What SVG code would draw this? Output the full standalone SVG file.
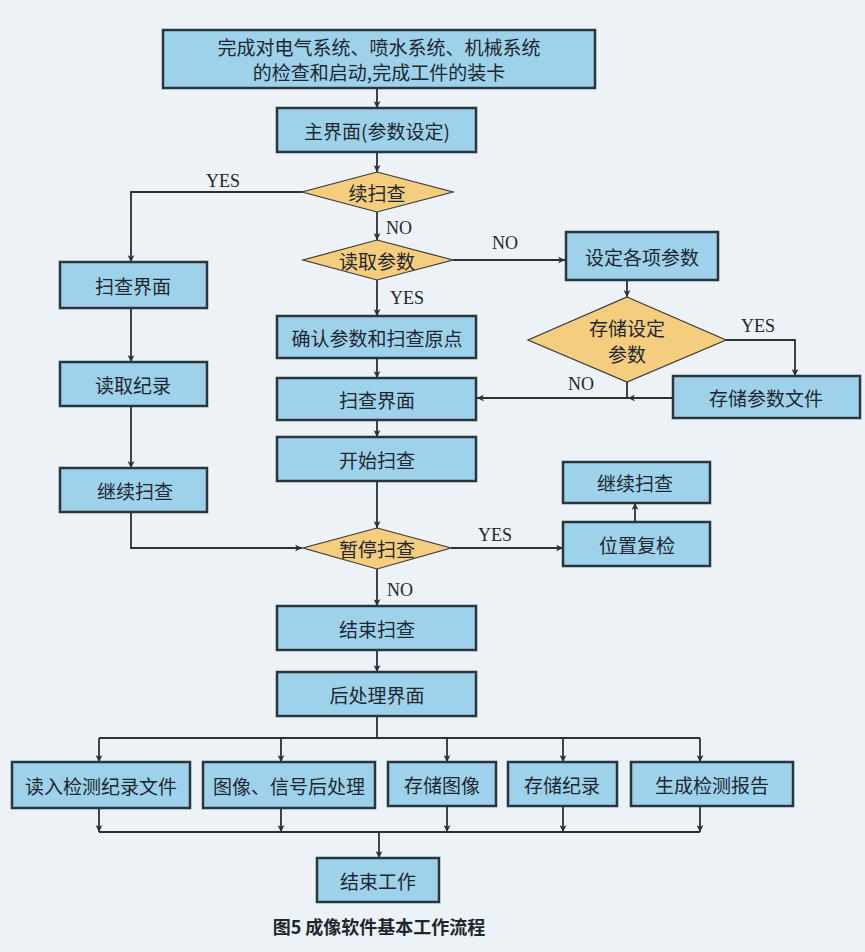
<svg xmlns="http://www.w3.org/2000/svg" width="865" height="952" viewBox="0 0 865 952">
<defs>
<style>
.bx{fill:#9dd2ea;stroke:#2b3540;stroke-width:2.5}
.dm{fill:#f4cd7e;stroke:#3a3a3a;stroke-width:1.2}
.t{font-family:"Noto Sans CJK SC","Noto Sans CJK TC",sans-serif;font-size:19px;fill:#1e2630;text-anchor:middle;dominant-baseline:central}
.lb{font-family:"Liberation Serif",serif;font-size:18px;fill:#1e2630}
.ln{fill:none;stroke:#2b3038;stroke-width:1.8}
.cap{font-family:"Noto Sans CJK SC",sans-serif;font-size:18px;font-weight:bold;fill:#1e2630;text-anchor:middle}
</style>
<marker id="ah" viewBox="0 0 10 10" refX="10" refY="5" markerWidth="7" markerHeight="7" orient="auto" markerUnits="userSpaceOnUse">
<path d="M0,0 L10,5 L0,10 L3,5 Z" fill="#2b3038"/>
</marker>
</defs>
<rect width="865" height="952" fill="#ecf2f5"/>

<g id="connectors">
<path class="ln" d="M377,88 V108" marker-end="url(#ah)"/>
<path class="ln" d="M377,152 V172" marker-end="url(#ah)"/>
<path class="ln" d="M303,192 H131 V262" marker-end="url(#ah)"/>
<path class="ln" d="M377,212 V240" marker-end="url(#ah)"/>
<path class="ln" d="M453,260 H565" marker-end="url(#ah)"/>
<path class="ln" d="M377,280 V316" marker-end="url(#ah)"/>
<path class="ln" d="M627,280 V297" marker-end="url(#ah)"/>
<path class="ln" d="M726,340 H795 V376" marker-end="url(#ah)"/>
<path class="ln" d="M673,398 H628" marker-end="url(#ah)"/>
<path class="ln" d="M628,398 H477" marker-end="url(#ah)"/>
<path class="ln" d="M627,382 V398"/>
<path class="ln" d="M377,358 V378" marker-end="url(#ah)"/>
<path class="ln" d="M377,420 V437" marker-end="url(#ah)"/>
<path class="ln" d="M377,481 V528" marker-end="url(#ah)"/>
<path class="ln" d="M131,308 V362" marker-end="url(#ah)"/>
<path class="ln" d="M131,406 V468" marker-end="url(#ah)"/>
<path class="ln" d="M131,512 V548 H302" marker-end="url(#ah)"/>
<path class="ln" d="M451,548 H563" marker-end="url(#ah)"/>
<path class="ln" d="M635,522 V503" marker-end="url(#ah)"/>
<path class="ln" d="M377,569 V606" marker-end="url(#ah)"/>
<path class="ln" d="M377,650 V672" marker-end="url(#ah)"/>
<path class="ln" d="M377,716 V738 M99,738 H700"/>
<path class="ln" d="M99,738 V762" marker-end="url(#ah)"/>
<path class="ln" d="M281,738 V762" marker-end="url(#ah)"/>
<path class="ln" d="M447,738 V762" marker-end="url(#ah)"/>
<path class="ln" d="M563,738 V762" marker-end="url(#ah)"/>
<path class="ln" d="M700,738 V762" marker-end="url(#ah)"/>
<path class="ln" d="M99,808 V832" marker-end="url(#ah)"/>
<path class="ln" d="M281,808 V832" marker-end="url(#ah)"/>
<path class="ln" d="M447,806 V832" marker-end="url(#ah)"/>
<path class="ln" d="M563,806 V832" marker-end="url(#ah)"/>
<path class="ln" d="M700,806 V832" marker-end="url(#ah)"/>
<path class="ln" d="M99,832 H700"/>
<path class="ln" d="M379,832 V858" marker-end="url(#ah)"/>
<text class="lb" x="206" y="187">YES</text>
<text class="lb" x="386" y="234">NO</text>
<text class="lb" x="492" y="249">NO</text>
<text class="lb" x="390" y="304">YES</text>
<text class="lb" x="741" y="332">YES</text>
<text class="lb" x="568" y="390">NO</text>
<text class="lb" x="478" y="541">YES</text>
<text class="lb" x="387" y="596">NO</text>
</g>

<g id="n-start"><rect class="bx" x="163" y="30" width="432" height="58"/><text class="t" x="379" y="46">完成对电气系统、喷水系统、机械系统</text><text class="t" x="379" y="71">的检查和启动,完成工件的装卡</text></g>
<g id="n-main"><rect class="bx" x="277" y="108" width="199" height="44"/><text class="t" x="377" y="130">主界面(参数设定)</text></g>
<g id="d-cont"><polygon class="dm" points="377,172 453,192 377,212 302,192"/><text class="t" x="377" y="192">续扫查</text></g>
<g id="d-read"><polygon class="dm" points="377,240 453,260 377,280 303,260"/><text class="t" x="377" y="260">读取参数</text></g>
<g id="n-setp"><rect class="bx" x="566" y="232" width="152" height="48"/><text class="t" x="642" y="256">设定各项参数</text></g>
<g id="n-scanL"><rect class="bx" x="60" y="262" width="147" height="46"/><text class="t" x="133" y="285">扫查界面</text></g>
<g id="n-confirm"><rect class="bx" x="277" y="316" width="199" height="42"/><text class="t" x="377" y="337">确认参数和扫查原点</text></g>
<g id="d-store"><polygon class="dm" points="627,297 726,340 627,382 528,340"/><text class="t" x="627" y="327">存储设定</text><text class="t" x="627" y="353">参数</text></g>
<g id="n-storefile"><rect class="bx" x="673" y="376" width="187" height="42"/><text class="t" x="766" y="397">存储参数文件</text></g>
<g id="n-scanC"><rect class="bx" x="277" y="378" width="199" height="42"/><text class="t" x="377" y="399">扫查界面</text></g>
<g id="n-readrec"><rect class="bx" x="60" y="362" width="147" height="44"/><text class="t" x="133" y="384">读取纪录</text></g>
<g id="n-startscan"><rect class="bx" x="277" y="437" width="199" height="44"/><text class="t" x="377" y="459">开始扫查</text></g>
<g id="n-contL"><rect class="bx" x="60" y="468" width="147" height="44"/><text class="t" x="135" y="490">继续扫查</text></g>
<g id="n-contR"><rect class="bx" x="563" y="462" width="147" height="41"/><text class="t" x="635" y="482">继续扫查</text></g>
<g id="d-pause"><polygon class="dm" points="377,528 451,548 377,569 303,548"/><text class="t" x="377" y="548">暂停扫查</text></g>
<g id="n-recheck"><rect class="bx" x="563" y="522" width="147" height="44"/><text class="t" x="637" y="544">位置复检</text></g>
<g id="n-endscan"><rect class="bx" x="277" y="606" width="199" height="44"/><text class="t" x="377" y="628">结束扫查</text></g>
<g id="n-post"><rect class="bx" x="277" y="672" width="199" height="44"/><text class="t" x="377" y="694">后处理界面</text></g>
<g id="n-b1"><rect class="bx" x="12" y="762" width="178" height="46"/><text class="t" x="101" y="785">读入检测纪录文件</text></g>
<g id="n-b2"><rect class="bx" x="203" y="762" width="172" height="46"/><text class="t" x="289" y="785">图像、信号后处理</text></g>
<g id="n-b3"><rect class="bx" x="388" y="762" width="108" height="44"/><text class="t" x="442" y="784">存储图像</text></g>
<g id="n-b4"><rect class="bx" x="508" y="762" width="109" height="44"/><text class="t" x="562" y="784">存储纪录</text></g>
<g id="n-b5"><rect class="bx" x="631" y="762" width="162" height="44"/><text class="t" x="712" y="784">生成检测报告</text></g>
<g id="n-end"><rect class="bx" x="317" y="858" width="122" height="44"/><text class="t" x="378" y="880">结束工作</text></g>
<text class="cap" x="379" y="934">图5  成像软件基本工作流程</text>
</svg>
